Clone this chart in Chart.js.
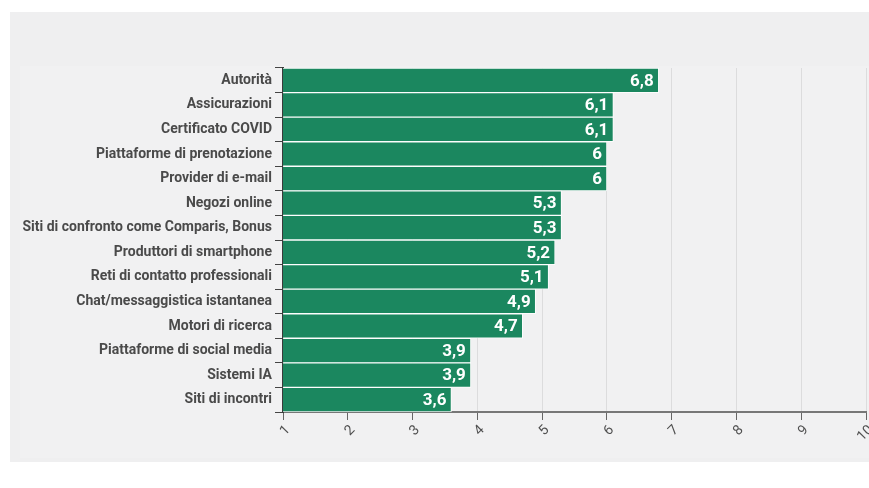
<!DOCTYPE html>
<html>
<head>
<meta charset="utf-8">
<script src="https://cdn.jsdelivr.net/npm/chart.js@4"></script>
<style>
  html, body { margin: 0; background: #fff; }
  #panel { position: absolute; left: 10px; top: 12px; width: 859px; height: 450px; background: #efeff0; }
  #inner { position: absolute; left: 10px; top: 54px; right: 0; bottom: 4px; background: #f1f1f2; }
  #wrap { position: absolute; left: 0; top: 0; width: 859px; height: 450px; }
</style>
</head>
<body>
<div id="panel">
  <div id="inner"></div>
  <div id="wrap"><canvas id="chart"></canvas></div>
</div>
<script>
// Valutazione media della fiducia (scala 1–10)
const categories = [
  "Autorità", "Assicurazioni", "Certificato COVID", "Piattaforme di prenotazione",
  "Provider di e-mail", "Negozi online", "Siti di confronto come Comparis, Bonus",
  "Produttori di smartphone", "Reti di contatto professionali", "Chat/messaggistica istantanea",
  "Motori di ricerca", "Piattaforme di social media", "Sistemi IA", "Siti di incontri"
];
const values = [6.8, 6.1, 6.1, 6, 6, 5.3, 5.3, 5.2, 5.1, 4.9, 4.7, 3.9, 3.9, 3.6];
const axisMin = 1, axisMax = 10;

const GREEN = "#1b875f";

// white value text at the end of each bar, decimal comma
const valueLabels = {
  id: "valueLabels",
  afterDatasetsDraw(chart) {
    const { ctx } = chart;
    const meta = chart.getDatasetMeta(0);
    ctx.save();
    ctx.font = "bold 17px Roboto";
    ctx.fillStyle = "#fff";
    ctx.textAlign = "right";
    ctx.textBaseline = "middle";
    meta.data.forEach((bar, i) => {
      ctx.fillText(String(values[i]).replace(".", ","), bar.x - 5, bar.y + 1);
    });
    ctx.restore();
  }
};

new Chart(document.getElementById("chart"), {
  type: "bar",
  data: {
    labels: categories,
    datasets: [{
      data: values,
      backgroundColor: GREEN,
      borderColor: "rgba(255,255,255,0.85)",
      borderWidth: 1,
      barPercentage: 1,
      categoryPercentage: 1
    }]
  },
  options: {
    indexAxis: "y",
    responsive: true,
    maintainAspectRatio: false,
    animation: false,
    layout: { padding: { top: 56, left: 0, right: 3, bottom: 0 } },
    plugins: { legend: { display: false }, tooltip: { enabled: false } },
    scales: {
      x: {
        type: "linear",
        min: axisMin,
        max: axisMax,
        ticks: {
          stepSize: 1,
          minRotation: 45,
          maxRotation: 45,
          labelOffset: 5,
          padding: 2,
          color: "#505050",
          font: { family: "Roboto", size: 14 }
        },
        grid: { color: "#dcdcdd", tickColor: "#666", tickLength: 8 },
        border: { color: "#777", width: 2 },
        afterFit(s) { s.height = 50; s.paddingLeft = 0; s.paddingRight = 0; }
      },
      y: {
        z: 1,
        ticks: {
          padding: 3,
          color: "#4a4a4a",
          font: { family: "Roboto", size: 14, weight: "bold" }
        },
        grid: { drawOnChartArea: false, tickColor: "#444", tickLength: 8 },
        border: { color: "#3a3a3a", width: 2 },
        afterFit(s) { s.width = 273; s.paddingTop = 0; s.paddingBottom = 0; }
      }
    }
  },
  plugins: [valueLabels]
});
</script>
</body>
</html>
